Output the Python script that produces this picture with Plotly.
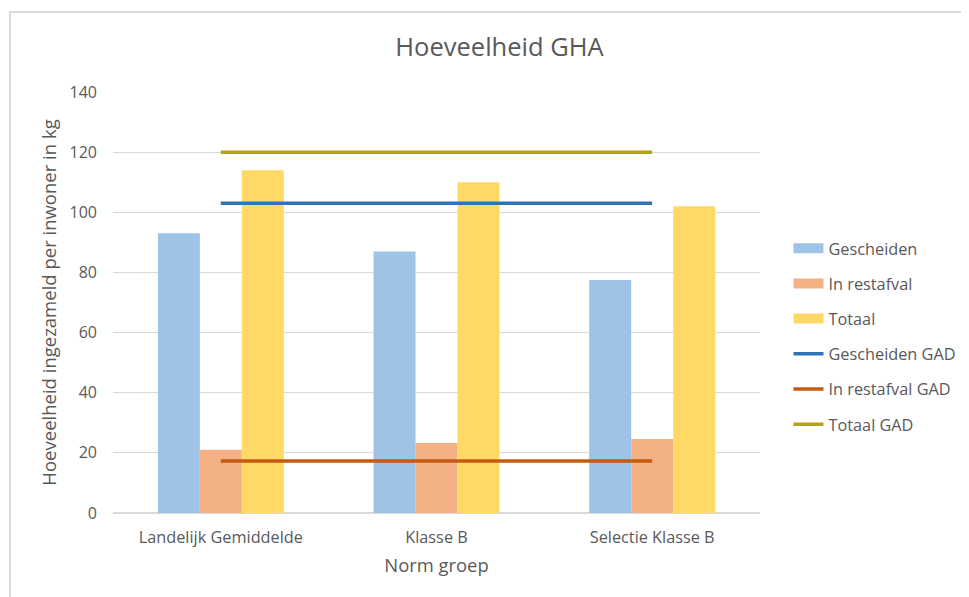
import plotly.graph_objects as go

categories = ["Landelijk Gemiddelde", "Klasse B", "Selectie Klasse B"]
gescheiden = [93, 87, 77.5]
in_restafval = [21, 23.3, 24.6]
totaal = [114, 110, 102]
gescheiden_gad = [103, 103, 103]
in_restafval_gad = [17.3, 17.3, 17.3]
totaal_gad = [120, 120, 120]
y_ticks = [0, 20, 40, 60, 80, 100, 120, 140]

FONT = "Open Sans, Roboto, sans-serif"
GRAY = "#595959"

# page has an 8px body margin; plot area target in screen px: x 113..760, y 92..513
L, T = 105, 84
R = 969 - 752
B = 597 - 505
PW = 969 - L - R
PH = 597 - T - B

fig = go.Figure()
bars = [("Gescheiden", gescheiden, "#9DC3E6"),
        ("In restafval", in_restafval, "#F4B183"),
        ("Totaal", totaal, "#FFD966")]
for i, (name, vals, col) in enumerate(bars):
    fig.add_trace(go.Bar(x=categories, y=vals, name=name, marker_color=col,
                         marker_line_width=0, showlegend=False, legendgroup=f"g{i}"))
# legend entries for bars drawn as wide swatches
for i, (name, vals, col) in enumerate(bars):
    fig.add_trace(go.Scatter(x=[None], y=[None], name=name, mode="lines",
                             line=dict(color=col, width=10), legendgroup=f"g{i}",
                             hoverinfo="skip"))
lines = [("Gescheiden GAD", gescheiden_gad, "#2E75B6"),
         ("In restafval GAD", in_restafval_gad, "#C55A11"),
         ("Totaal GAD", totaal_gad, "#B8A216")]
for j, (name, vals, col) in enumerate(lines):
    fig.add_trace(go.Scatter(x=categories, y=vals, name=name, mode="lines",
                             line=dict(color=col, width=3.5), legendgroup=f"l{j}"))

fig.update_layout(
    width=969, height=597,
    margin=dict(l=L, r=R, t=T, b=B, autoexpand=False),
    paper_bgcolor="white", plot_bgcolor="white",
    barmode="group", bargap=0.416, bargroupgap=0,
    font=dict(family=FONT, color=GRAY, size=16),
    title=dict(text="Hoeveelheid GHA", x=0.5 + 7 / 969, xref="container", xanchor="center",
               y=1 - 39 / 597, yanchor="middle", font=dict(size=25.5, color=GRAY)),
    legend=dict(x=1.044, y=0.419, xanchor="left", yanchor="middle",
                font=dict(size=16.3, color=GRAY), tracegroupgap=11,
                bgcolor="rgba(0,0,0,0)"),
    showlegend=True,
    xaxis=dict(title=dict(text="Norm groep", font=dict(size=18.4, color=GRAY), standoff=12),
               showline=True, linecolor="#D9D9D9", linewidth=1, ticks="",
               tickfont=dict(size=16.3, color=GRAY), showgrid=False, automargin=False,
               ticklabelstandoff=9),
    yaxis=dict(title=dict(text="Hoeveelheid ingezameld per inwoner in kg",
                          font=dict(size=18.5, color=GRAY), standoff=8),
               range=[0, 140], tickvals=y_ticks, showgrid=True, gridcolor="#D9D9D9",
               gridwidth=1, zeroline=True, zerolinecolor="#D9D9D9", showline=False,
               ticks="", tickfont=dict(size=16, color=GRAY), ticklabelstandoff=15,
               automargin=False),
    shapes=[dict(type="rect", xref="paper", yref="paper",
                 x0=(2 - L) / PW, x1=(990 - L) / PW,
                 y0=(T + PH - 620) / PH, y1=(T + PH - 4) / PH,
                 line=dict(color="#D0D0D0", width=1.5), fillcolor="rgba(0,0,0,0)",
                 layer="below")],
)

fig.write_html("out.html")
